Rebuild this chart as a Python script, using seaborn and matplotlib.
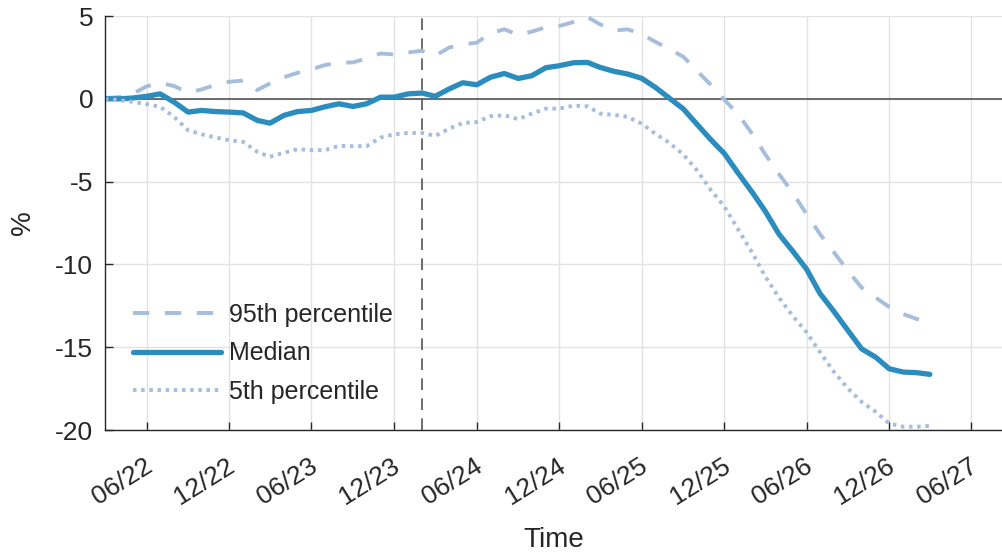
import numpy as np
import pandas as pd
import matplotlib
matplotlib.use("Agg")
import matplotlib.pyplot as plt
import matplotlib.dates as mdates
import matplotlib.transforms as mtransforms
import seaborn as sns

# monthly, 03/22 .. 03/27
dates = pd.date_range("2022-03-01", periods=61, freq="MS")

p95 = [0.05, 0.1, 0.3, 0.75, 0.97, 0.77, 0.38, 0.57, 0.85, 1.03,
       1.1, 0.53, 0.93, 1.3, 1.57, 1.78, 2.04, 2.18, 2.2, 2.44,
       2.74, 2.68, 2.8, 2.9, 2.6, 3.1, 3.29, 3.39, 3.96, 4.2,
       3.86, 4.06, 4.32, 4.4, 4.64, 4.94, 4.5, 4.12, 4.2, 3.9,
       3.45, 3.0, 2.55, 1.7, 0.85, -0.05, -0.95, -2.12, -3.33, -4.54,
       -5.65, -6.96, -8.17, -9.28, -10.4, -11.4, -12.0, -12.57, -13.0, -13.3,
       -13.58]

median = [0.0, 0.0, 0.05, 0.15, 0.3, -0.2, -0.8, -0.7, -0.77, -0.8,
          -0.85, -1.3, -1.47, -1.0, -0.77, -0.7, -0.48, -0.3, -0.46, -0.3,
          0.1, 0.1, 0.3, 0.35, 0.15, 0.6, 0.97, 0.85, 1.3, 1.53,
          1.23, 1.4, 1.88, 2.0, 2.18, 2.2, 1.9, 1.66, 1.5, 1.24,
          0.7, 0.05, -0.6, -1.52, -2.46, -3.3, -4.5, -5.65, -6.76, -8.17,
          -9.18, -10.28, -11.76, -12.85, -14.0, -15.1, -15.6, -16.3, -16.5, -16.54,
          -16.64]

p5 = [0.0, -0.08, -0.18, -0.32, -0.48, -1.09, -1.9, -2.14, -2.34, -2.5,
      -2.6, -3.2, -3.5, -3.26, -3.04, -3.1, -3.1, -2.84, -2.86, -2.86,
      -2.34, -2.14, -2.06, -2.06, -2.24, -1.8, -1.46, -1.4, -1.05, -0.99,
      -1.23, -0.89, -0.59, -0.59, -0.41, -0.45, -0.89, -0.97, -1.09, -1.5,
      -2.1, -2.65, -3.35, -4.3, -5.5, -6.5, -7.9, -9.3, -10.7, -12.0,
      -13.1, -14.1, -15.3, -16.5, -17.5, -18.3, -18.9, -19.6, -19.8, -19.8,
      -19.75]

event_date = pd.Timestamp("2024-02-01")
y_ticks = [-20, -15, -10, -5, 0, 5]

light = "#a6bddb"
dark = "#2b8cbe"
ink = "#262626"

sns.set_theme(style="whitegrid")
plt.rcParams["font.family"] = ["Liberation Sans", "DejaVu Sans"]
plt.rcParams["axes.unicode_minus"] = False

df = pd.DataFrame({"date": dates, "p95": p95, "median": median, "p5": p5})

fig = plt.figure(figsize=(10.03, 5.53), dpi=100)
ax = fig.add_axes([0.1047, 0.2224, 0.8953, 0.7486])

sns.lineplot(data=df, x="date", y="p95", ax=ax, color=light, lw=2.8,
             label="95th percentile")
ax.lines[-1].set_dashes((4.2, 4.0))
sns.lineplot(data=df, x="date", y="median", ax=ax, color=dark, lw=3.8,
             label="Median")
sns.lineplot(data=df, x="date", y="p5", ax=ax, color=light, lw=2.8,
             label="5th percentile")
ax.lines[-1].set_dashes((0.9, 1.2))

ax.axhline(0, color="#555555", lw=1.2, zorder=1)
ax.axvline(event_date, color="#555555", lw=1.2, dashes=(7, 5), zorder=1)

ax.set_xlim(pd.Timestamp("2022-03-01"), pd.Timestamp("2027-08-10"))
ax.set_ylim(-20, 5)
ax.set_yticks(y_ticks)
ax.xaxis.set_major_locator(mdates.MonthLocator(bymonth=[6, 12]))
ax.xaxis.set_major_formatter(mdates.DateFormatter("%m/%y"))

ax.grid(True, color="#e2e2e2", lw=1.0)
ax.set_facecolor("white")
for side in ["top", "right"]:
    ax.spines[side].set_visible(False)
for side in ["left", "bottom"]:
    ax.spines[side].set_color(ink)
    ax.spines[side].set_linewidth(1.0)

ax.tick_params(axis="both", direction="in", length=6, width=1.0,
               color=ink, labelsize=19, labelcolor=ink,
               left=True, bottom=True)
ax.tick_params(axis="y", pad=8.5)
ax.tick_params(axis="x", pad=17)
shift = mtransforms.ScaledTranslation(10 / 100, 0, fig.dpi_scale_trans)
for lab in ax.get_xticklabels():
    lab.set_rotation(32)
    lab.set_ha("right")
    lab.set_transform(lab.get_transform() + shift)

ax.set_xlabel("Time", fontsize=20, color=ink, labelpad=13)
ax.set_ylabel("%", fontsize=20, color=ink, labelpad=14)

ax.legend(loc="upper left", bbox_to_anchor=(0.0256, 0.319), frameon=False,
          fontsize=18, handlelength=3.5, handletextpad=0.33, labelspacing=0.58,
          borderpad=0.2, borderaxespad=0)

fig.savefig("out.png", dpi=100)
